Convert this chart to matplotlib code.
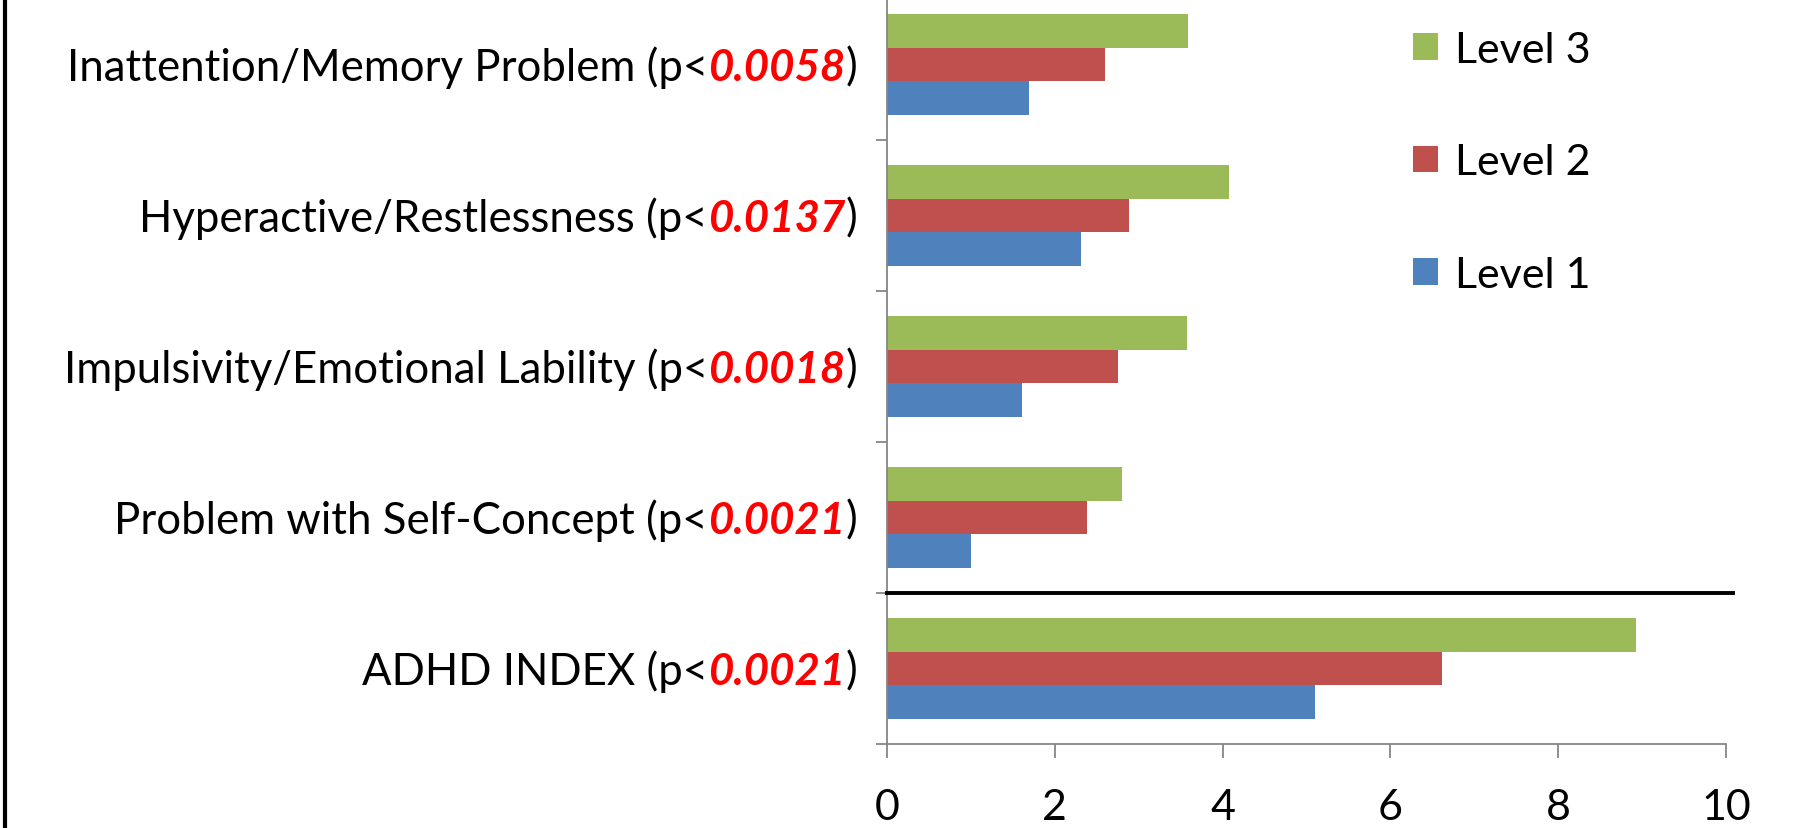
import matplotlib
matplotlib.use("Agg")
import matplotlib.pyplot as plt
from matplotlib.lines import Line2D
from matplotlib.patches import Patch
import numpy as np

plt.rcParams['font.family'] = ['Lato', 'DejaVu Sans']

# ADHD sub-scale scores by level (bottom to top on the chart)
categories = ["ADHD INDEX", "Problem with Self-Concept", "Impulsivity/Emotional Lability",
              "Hyperactive/Restlessness", "Inattention/Memory Problem"]
p_values = ["0.0021", "0.0021", "0.0018", "0.0137", "0.0058"]
level1 = [5.10, 1.00, 1.61, 2.31, 1.69]
level2 = [6.61, 2.38, 2.75, 2.88, 2.60]
level3 = [8.93, 2.80, 3.57, 4.08, 3.59]
series_names = ["Level 1", "Level 2", "Level 3"]
colors = ["#4F81BD", "#C0504D", "#9BBB59"]
xticks = [0, 2, 4, 6, 8, 10]

W, H = 1797, 829
fig = plt.figure(figsize=(W / 100, H / 100), dpi=100)
ax = fig.add_axes([887 / W, 84 / H, 839 / W, 755 / H])

y = np.arange(len(categories))
bh = 0.222
for i, (vals, c) in enumerate(zip([level1, level2, level3], colors)):
    ax.barh(y + (i - 1) * bh, vals, height=bh, color=c, edgecolor="none")

ax.set_xlim(0, 10)
ax.set_ylim(-0.5, len(categories) - 0.5)

grey = "#868686"
for s in ["top", "right"]:
    ax.spines[s].set_visible(False)
for s in ["left", "bottom"]:
    ax.spines[s].set_color(grey)
    ax.spines[s].set_linewidth(1.3)

ax.set_xticks(xticks)
ax.set_xticklabels([str(t) for t in xticks])
ax.tick_params(axis="x", direction="out", length=10, width=1.3, color=grey,
               labelsize=31, pad=22)
ax.set_yticks(np.arange(-0.5, len(categories), 1.0))
ax.set_yticklabels([])
ax.tick_params(axis="y", direction="out", length=8, width=1.3, color=grey)

# separator between the overall index and the sub-scales
ax.plot([0, 10.08], [0.5, 0.5], color="black", lw=2.8, clip_on=False, zorder=5)

# left border
fig.add_artist(Line2D([5 / W, 5 / W], [0, 1], color="black", lw=3,
                      transform=fig.transFigure))

# category labels with red p-values
fig.canvas.draw()
renderer = fig.canvas.get_renderer()
fs = 31.5
x_right = 857
for yi, name, p in zip(y, categories, p_values):
    yb = ax.transData.transform((0, yi - 0.1))[1]
    parts = [(")", "black", "normal", "normal"),
             (p, "red", "bold", "italic"),
             (name + " (p<", "black", "normal", "normal")]
    xr = x_right
    for txt, col, wt, st in parts:
        t = fig.text(xr / W, yb / H, txt, color=col, fontweight=wt, fontstyle=st,
                     fontsize=fs, ha="right", va="baseline")
        bb = t.get_window_extent(renderer)
        xr = bb.x0

handles = [Patch(facecolor=colors[i], edgecolor="none") for i in [2, 1, 0]]
labels = [series_names[i] for i in [2, 1, 0]]
ax.legend(handles, labels, loc="upper left",
          bbox_to_anchor=(1374 / W, 1 + 7 / H), bbox_transform=fig.transFigure,
          frameon=False, fontsize=31, handlelength=0.58, handleheight=0.58,
          handletextpad=0.4, labelspacing=1.73)

fig.savefig("out.png", dpi=100, facecolor="white")
